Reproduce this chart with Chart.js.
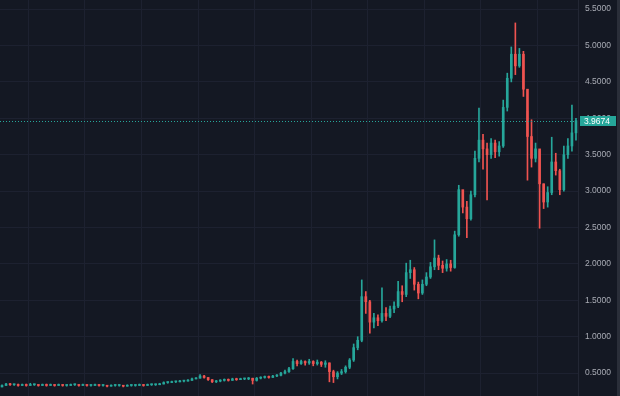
<!DOCTYPE html>
<html>
<head>
<meta charset="utf-8">
<script src="https://cdn.jsdelivr.net/npm/chart.js@4.4.1/dist/chart.umd.min.js"></script>
<style>
    html, body { margin: 0; padding: 0; background: #141823; }
    #wrap { width: 620px; height: 396px; position: relative; }
</style>
</head>
<body>
<div id="wrap"><canvas id="graph" width="620" height="396"></canvas></div>
<script>
const firstOpen = 0.31

const closes = [
    0.33, 0.35, 0.34, 0.34, 0.33, 0.34, 0.33, 0.34, 0.34, 0.33,
    0.34, 0.33, 0.34, 0.33, 0.34, 0.33, 0.33, 0.34, 0.34, 0.33,
    0.34, 0.33, 0.33, 0.34, 0.33, 0.33, 0.32, 0.33, 0.33, 0.33,
    0.32, 0.33, 0.33, 0.33, 0.34, 0.33, 0.34, 0.34, 0.34, 0.35,
    0.37, 0.37, 0.38, 0.38, 0.39, 0.39, 0.40, 0.42, 0.43, 0.46,
    0.44, 0.41, 0.38, 0.39, 0.40, 0.41, 0.40, 0.42, 0.41, 0.42,
    0.42, 0.43, 0.40, 0.43, 0.44, 0.45, 0.44, 0.46, 0.47, 0.50,
    0.52, 0.56, 0.66, 0.63, 0.66, 0.64, 0.66, 0.63, 0.65, 0.62,
    0.64, 0.52, 0.45, 0.50, 0.52, 0.58, 0.68, 0.85, 0.95, 1.55,
    1.48, 1.20, 1.26, 1.22, 1.32, 1.28, 1.38, 1.42, 1.62, 1.58,
    1.88, 1.92, 1.72, 1.60, 1.72, 1.82, 1.96, 2.08, 1.98, 1.94,
    2.00, 1.95, 2.40, 3.02, 2.78, 2.62, 2.95, 3.45, 3.70, 3.58,
    3.50, 3.66, 3.54, 3.62, 4.15, 4.55, 4.88, 4.72, 4.88, 4.40,
    3.75, 3.45, 3.58, 3.10, 2.85, 2.98, 3.40, 3.28, 3.02, 3.50,
    3.62, 3.80, 3.9674,
]

const highs = [
    0.34, 0.36, 0.36, 0.35, 0.35, 0.35, 0.35, 0.36, 0.35, 0.34,
    0.35, 0.35, 0.35, 0.34, 0.35, 0.34, 0.34, 0.35, 0.35, 0.34,
    0.35, 0.34, 0.34, 0.35, 0.34, 0.34, 0.33, 0.34, 0.34, 0.34,
    0.33, 0.34, 0.34, 0.34, 0.35, 0.34, 0.35, 0.35, 0.35, 0.36,
    0.38, 0.38, 0.39, 0.39, 0.40, 0.40, 0.41, 0.43, 0.44, 0.48,
    0.47, 0.44, 0.41, 0.40, 0.41, 0.42, 0.42, 0.43, 0.43, 0.43,
    0.43, 0.44, 0.43, 0.44, 0.45, 0.46, 0.46, 0.47, 0.48, 0.51,
    0.54, 0.58, 0.70, 0.68, 0.68, 0.67, 0.69, 0.67, 0.68, 0.66,
    0.67, 0.64, 0.54, 0.52, 0.55, 0.60, 0.70, 0.90, 1.00, 1.78,
    1.62, 1.50, 1.32, 1.30, 1.67, 1.40, 1.42, 1.48, 1.76, 1.70,
    2.01, 2.05, 1.95, 1.75, 1.78, 1.88, 2.02, 2.33, 2.12, 2.04,
    2.06, 2.05, 2.45, 3.08, 3.00, 2.86, 3.00, 3.55, 4.14, 3.78,
    3.66, 3.72, 3.70, 3.68, 4.25, 4.62, 4.98, 5.31, 4.96, 4.92,
    4.10, 3.98, 3.66, 3.55, 3.10, 3.06, 3.74, 3.52, 3.30, 3.62,
    3.72, 4.18, 4.00,
]

const lows = [
    0.31, 0.33, 0.33, 0.33, 0.32, 0.33, 0.32, 0.33, 0.33, 0.32,
    0.33, 0.32, 0.33, 0.32, 0.33, 0.32, 0.32, 0.33, 0.33, 0.32,
    0.33, 0.32, 0.32, 0.33, 0.32, 0.32, 0.31, 0.32, 0.32, 0.32,
    0.31, 0.32, 0.32, 0.32, 0.33, 0.32, 0.33, 0.33, 0.33, 0.34,
    0.35, 0.36, 0.37, 0.37, 0.38, 0.38, 0.39, 0.40, 0.42, 0.43,
    0.43, 0.40, 0.37, 0.37, 0.38, 0.39, 0.39, 0.40, 0.40, 0.41,
    0.41, 0.41, 0.35, 0.39, 0.42, 0.43, 0.43, 0.44, 0.45, 0.46,
    0.49, 0.51, 0.55, 0.60, 0.62, 0.61, 0.62, 0.60, 0.61, 0.59,
    0.58, 0.38, 0.37, 0.42, 0.48, 0.50, 0.56, 0.66, 0.82, 0.93,
    1.32, 1.05, 1.12, 1.15, 1.20, 1.22, 1.26, 1.33, 1.40, 1.48,
    1.55, 1.80, 1.64, 1.52, 1.58, 1.70, 1.80, 1.92, 1.92, 1.88,
    1.90, 1.90, 1.94, 2.38, 2.70, 2.36, 2.60, 2.92, 3.40, 3.30,
    2.88, 3.45, 3.46, 3.48, 3.60, 4.10, 4.50, 4.60, 4.70, 4.30,
    3.15, 3.33, 3.40, 2.49, 2.76, 2.78, 2.95, 3.22, 2.95, 3.00,
    3.45, 3.55, 3.70,
]

const tickValues = [0.5, 1.0, 1.5, 2.0, 2.5, 3.0, 3.5, 4.0, 4.5, 5.0, 5.5]

const upColor = "#26a69a"
const downColor = "#ef5350"
const gridColor = "#1d2130"
const textColor = "#a9acb5"

const labels = closes.map((c, i) => String(i + 1))
const opens = closes.map((c, i) => (i == 0 ? firstOpen : closes[i - 1]))
const candleColors = closes.map((c, i) => (c >= opens[i] ? upColor : downColor))
const lastClose = closes[closes.length - 1]

// price line + label on the right axis
const lastPricePlugin = {
    id: "lastPrice",
    afterDraw(chart) {
        const ctx = chart.ctx
        const y = chart.scales.y.getPixelForValue(lastClose)
        const area = chart.chartArea
        ctx.save()
        ctx.strokeStyle = upColor
        ctx.lineWidth = 1
        ctx.setLineDash([1, 2])
        ctx.beginPath()
        ctx.moveTo(area.left, Math.round(y) + 0.5)
        ctx.lineTo(area.right, Math.round(y) + 0.5)
        ctx.stroke()
        ctx.setLineDash([])
        ctx.fillStyle = upColor
        ctx.fillRect(area.right + 2, Math.round(y) - 5, 36, 10)
        ctx.fillStyle = "#ffffff"
        ctx.font = "8.5px 'Liberation Sans', Arial, sans-serif"
        ctx.textBaseline = "middle"
        ctx.fillText(lastClose.toFixed(4), area.right + 6, Math.round(y) + 0.5)
        // right edge strip
        ctx.fillStyle = "#2a2e39"
        ctx.fillRect(chart.width - 3, 0, 3, chart.height)
        ctx.restore()
    },
}

const chartID = document.getElementById("graph").getContext("2d")
let graphic = new Chart(chartID, {
    type: "bar",
    data: {
        labels: labels,
        datasets: [
            {
                label: "Body",
                data: opens.map((o, i) => [o, closes[i]]),
                backgroundColor: candleColors,
                borderWidth: 0,
                barThickness: 2,
                minBarLength: 1,
                grouped: false,
                order: 0,
            },
            {
                label: "Wick",
                data: lows.map((l, i) => [l, highs[i]]),
                backgroundColor: candleColors,
                borderWidth: 0,
                barThickness: 1,
                grouped: false,
                order: 1,
            },
        ],
    },
    options: {
        responsive: false,
        animation: false,
        layout: { padding: 0 },
        plugins: {
            legend: { display: false },
            tooltip: { enabled: false },
        },
        scales: {
            x: {
                type: "category",
                offset: true,
                border: { display: false },
                grid: {
                    offset: true,
                    drawTicks: false,
                    color: (c) => (c.index % 14 == 7 ? gridColor : "transparent"),
                },
                ticks: { display: false, autoSkip: false, padding: 0 },
                afterFit: (scale) => {
                    scale.height = 0
                    scale.paddingLeft = 0
                    scale.paddingRight = 0
                },
            },
            y: {
                position: "right",
                min: 0.1854,
                max: 5.625,
                border: { display: true, color: "#232734" },
                grid: { color: gridColor, drawTicks: false },
                afterBuildTicks: (scale) => {
                    scale.ticks = tickValues.map((v) => ({ value: v }))
                },
                afterFit: (scale) => {
                    scale.width = 42
                    scale.paddingTop = 0
                    scale.paddingBottom = 0
                },
                ticks: {
                    color: textColor,
                    padding: 7,
                    font: { family: "'Liberation Sans', Arial, sans-serif", size: 8.5 },
                    callback: (v) => Number(v).toFixed(4),
                },
            },
        },
    },
    plugins: [lastPricePlugin],
})
</script>
</body>
</html>
